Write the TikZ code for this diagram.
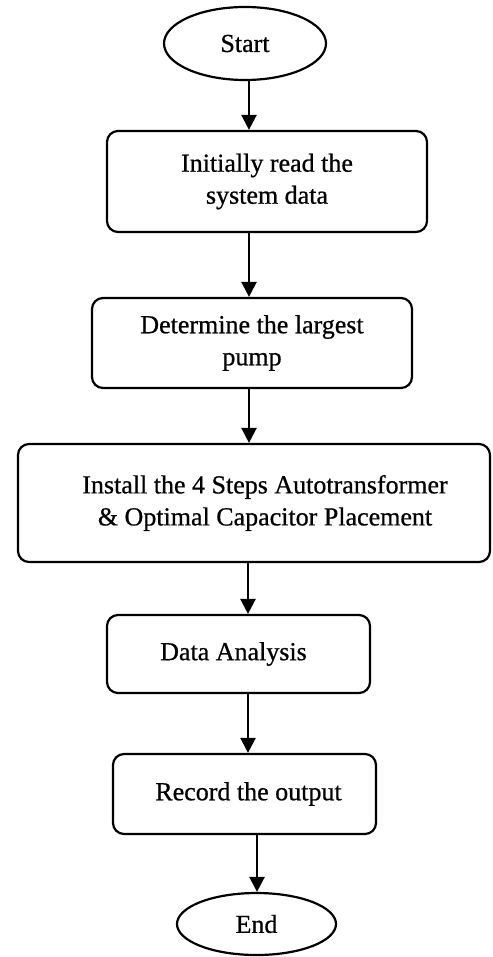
\documentclass[tikz,border=0pt]{standalone}
\usepackage{fontspec}
\setmainfont{Liberation Serif}[FakeBold=0.7]
\newfontfamily\labelfont{Liberation Serif}[FakeBold=0.7]
\usetikzlibrary{shapes.geometric,arrows.meta}

\begin{document}
\begin{tikzpicture}[x=1pt,y=-1pt,
  every node/.style={font=\labelfont\fontsize{26}{32}\selectfont, align=center, inner sep=0pt},
  terminal/.style={draw, ellipse, line width=2.2pt},
  stepbox/.style={draw, rectangle, rounded corners=11pt, line width=2.2pt},
  flow/.style={line width=2.4pt, -{Triangle[length=15pt,width=15pt]}}]
  \useasboundingbox (0,0) rectangle (492,957);

  % terminals and process boxes
  \node[terminal, minimum width=162pt, minimum height=73pt] (start) at (245,43.5) {Start};
  \node[stepbox, minimum width=320pt, minimum height=101pt] (read) at (267,181.5)
    {Initially read the\\system data};
  \node[stepbox, minimum width=320pt, minimum height=90pt] (pump) at (252,343)
    {Determine the largest\\pump};
  \node[stepbox, minimum width=472pt, minimum height=118pt] (install) at (254,503)
    {\hspace*{22pt}Install the 4 Steps Autotransformer\\\hspace*{22pt}\& Optimal Capacitor Placement};
  \node[stepbox, minimum width=263pt, minimum height=78pt] (analysis) at (238.5,654)
    {Data Analysis\hspace*{10pt}};
  \node[stepbox, minimum width=263pt, minimum height=80pt] (record) at (244.5,794)
    {\hspace*{8pt}Record the output};
  \node[terminal, minimum width=159pt, minimum height=62pt] (end) at (256.5,924) {End};

  % vertical guides for the connectors
  \coordinate (c1) at (249,0);
  \coordinate (c4) at (248,0);
  \coordinate (c6) at (257,0);

  \draw[flow] (start.south -| c1) -- (read.north -| c1);
  \draw[flow] (read.south -| c1) -- (pump.north -| c1);
  \draw[flow] (pump.south -| c1) -- (install.north -| c1);
  \draw[flow] (install.south -| c4) -- (analysis.north -| c4);
  \draw[flow] (analysis.south -| c4) -- (record.north -| c4);
  \draw[flow] (record.south -| c6) -- (end.north -| c6);
\end{tikzpicture}
\end{document}
